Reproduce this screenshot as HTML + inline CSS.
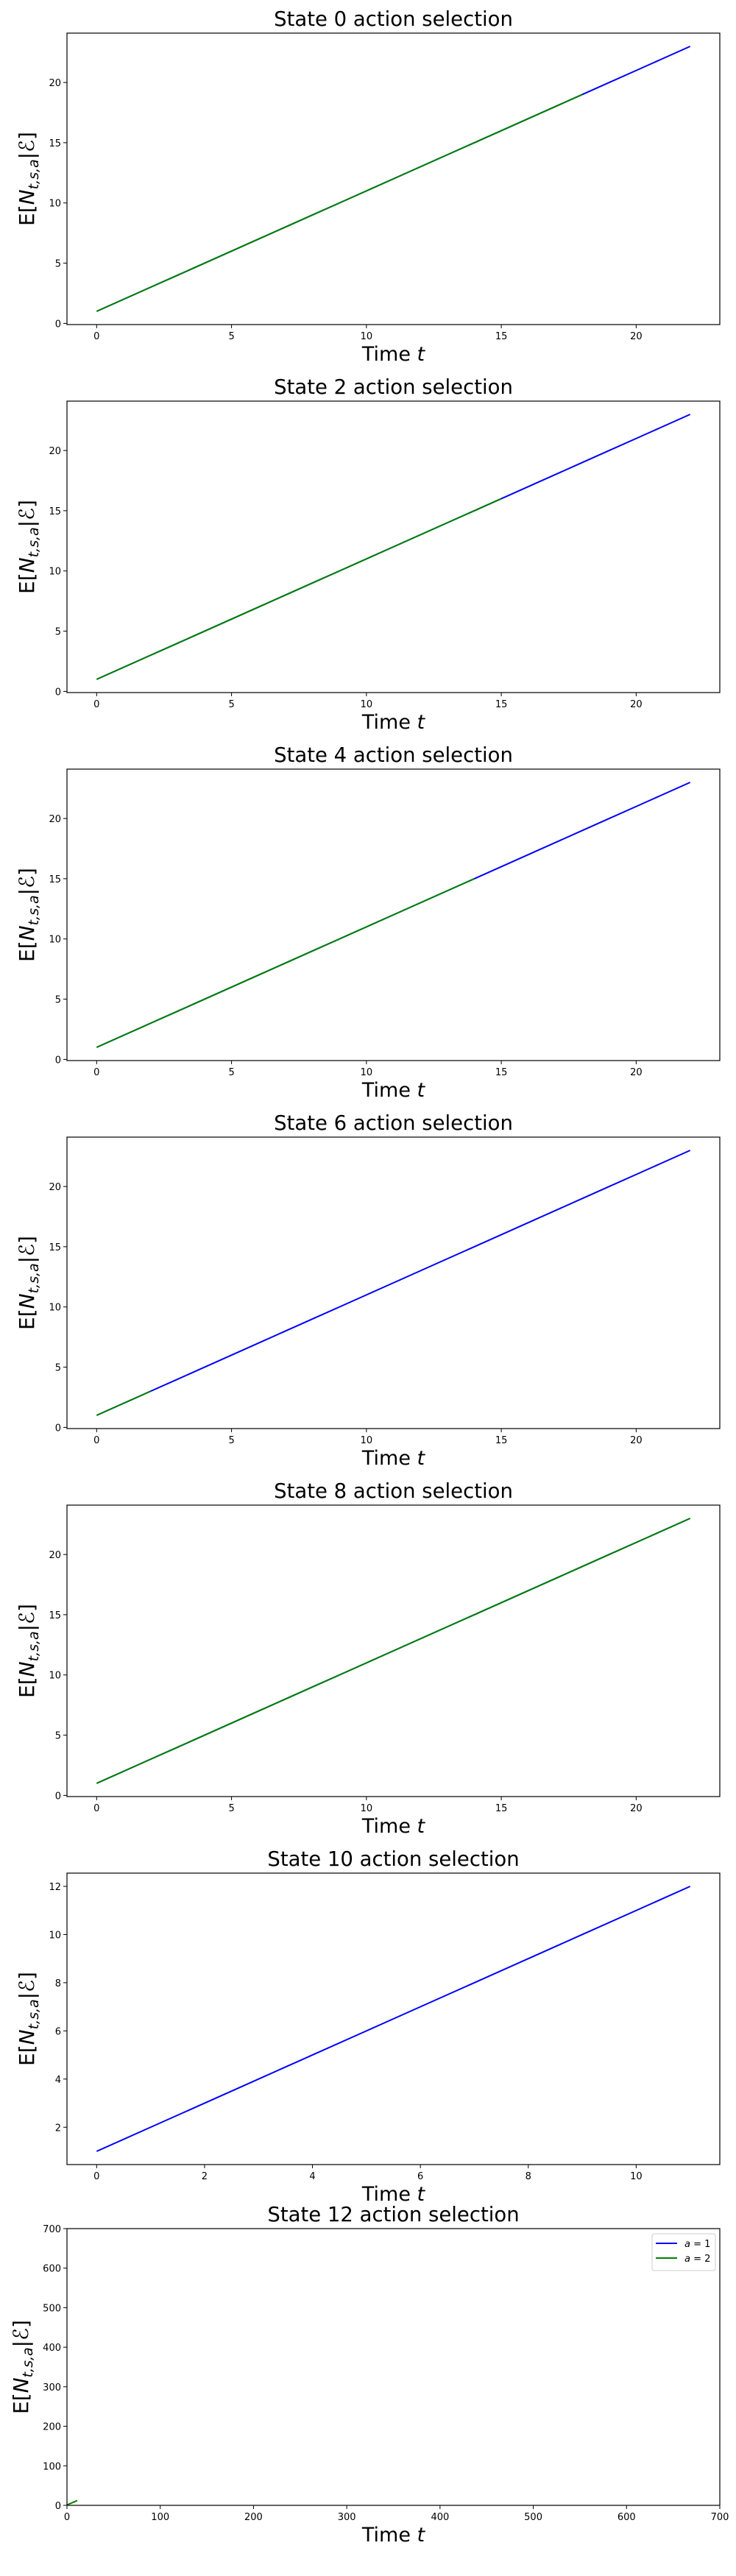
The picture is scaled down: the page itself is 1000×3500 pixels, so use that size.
<!DOCTYPE html>
<html><head><meta charset="utf-8"><style>
html,body{margin:0;padding:0;background:#fff;}
svg{display:block;font-family:"DejaVu Sans","Liberation Sans",sans-serif;}
</style></head><body>
<svg id="fig" width="1000" height="3500" viewBox="0 0 1000 3500" xmlns="http://www.w3.org/2000/svg"></svg>
<script>
// Data per panel
const stateIds = [0, 2, 4, 6, 8, 10, 12];
const blueT = [22, 22, 22, 22, 22, 11, -1];
const greenT = [18, 15, 14, 2, 22, 0, 11];
const xTicksSmall = [0, 5, 10, 15, 20];
const yTicksSmall = [0, 5, 10, 15, 20];
const xTicks10 = [0, 2, 4, 6, 8, 10];
const yTicks10 = [2, 4, 6, 8, 10, 12];
const ticks12 = [0, 100, 200, 300, 400, 500, 600, 700];
const legendLabels = ["1", "2"];

const NS = "http://www.w3.org/2000/svg";
const fig = document.getElementById('fig');
function mk(tag, attrs, parent) {
  const e = document.createElementNS(NS, tag);
  for (const k in attrs) e.setAttribute(k, attrs[k]);
  (parent || fig).appendChild(e);
  return e;
}
function series(n) { const a = []; for (let i = 0; i <= n; i++) a.push([i, i + 1]); return a; }

stateIds.forEach((sid, p) => {
  const off = p * 500;
  const g = mk('g', {});
  
  
  const L = 91, R = 978;
  let T = off + 45, B = off + 441;
  let xmin, xmax, ymin, ymax, xt, yt;
  if (p < 5) { xmin = -1.1; xmax = 23.1; ymin = -0.1; ymax = 24.1; xt = xTicksSmall; yt = yTicksSmall; }
  else if (p === 5) { xmin = -0.55; xmax = 11.55; ymin = 0.45; ymax = 12.55; xt = xTicks10; yt = yTicks10; }
  else { T = off + 28; B = off + 404; xmin = 0; xmax = 700; ymin = 0; ymax = 700; xt = ticks12; yt = ticks12; }
  const sx = v => L + (v - xmin) / (xmax - xmin) * (R - L);
  const sy = v => B - (v - ymin) / (ymax - ymin) * (B - T);

  const title = mk('text', {x: (L + R) / 2, y: T - 10, 'text-anchor': 'middle', 'font-size': 27.5, fill: '#000'}, g);
  title.textContent = 'State ' + sid + ' action selection';
  
  

  const drawLine = (n, color, name) => {
    if (n < 0) return;
    const pts = series(n).map(d => sx(d[0]).toFixed(2) + ',' + sy(d[1]).toFixed(2)).join(' ');
    const pl = mk('polyline', {points: pts, fill: 'none', stroke: color, 'stroke-width': 2}, g);
    
    
  };
  drawLine(blueT[p], '#0000ff', 'line-a1');
  drawLine(greenT[p], '#008000', 'line-a2');

  const frame = mk('rect', {x: L, y: T, width: R - L, height: B - T, fill: 'none', stroke: '#000', 'stroke-width': 1.2}, g);
  
  

  xt.forEach(v => {
    mk('line', {x1: sx(v), x2: sx(v), y1: B, y2: B + 5, stroke: '#000', 'stroke-width': 1}, g);
    const t = mk('text', {x: sx(v), y: B + 20, 'text-anchor': 'middle', 'font-size': 13, fill: '#000'}, g);
    t.textContent = v;
    
    
  });
  yt.forEach(v => {
    mk('line', {x1: L - 5, x2: L, y1: sy(v), y2: sy(v), stroke: '#000', 'stroke-width': 1}, g);
    const t = mk('text', {x: L - 8, y: sy(v) + 5, 'text-anchor': 'end', 'font-size': 13, fill: '#000'}, g);
    t.textContent = v;
    
    
  });

  const xl = mk('text', {x: (L + R) / 2, y: B + 49, 'text-anchor': 'middle', 'font-size': 27, fill: '#000'}, g);
  xl.innerHTML = 'Time <tspan font-style="italic">t</tspan>';
  
  

  const yx = p === 6 ? 38 : 46;
  const yc = (T + B) / 2;
  const yl = mk('text', {x: yx, y: yc, 'text-anchor': 'middle', 'font-size': 28, fill: '#000', transform: 'rotate(-90 ' + yx + ' ' + yc + ')'}, g);
  yl.innerHTML = 'E[<tspan font-style="italic">N</tspan><tspan font-style="italic" font-size="19" dy="6">t,s,a</tspan><tspan dy="-6">|</tspan><tspan font-style="italic">ℰ</tspan>]';
  
  

  if (p === 6) {
    const lg = mk('g', {}, g);
    
    
    mk('rect', {x: 886, y: T + 7, width: 86, height: 50, rx: 3, fill: '#fff', stroke: '#ccc', 'stroke-width': 1}, lg);
    const cols = ['#0000ff', '#008000'];
    legendLabels.forEach((lab, i) => {
      const y = T + 20 + i * 20;
      const ln = mk('line', {x1: 891, x2: 920, y1: y, y2: y, stroke: cols[i], 'stroke-width': 2}, lg);
      
      
      const t = mk('text', {x: 930, y: y + 5, 'font-size': 13, fill: '#000'}, lg);
      t.innerHTML = '<tspan font-style="italic">a</tspan> = ' + lab;
      
      
    });
  }
});
</script>
</body></html>
